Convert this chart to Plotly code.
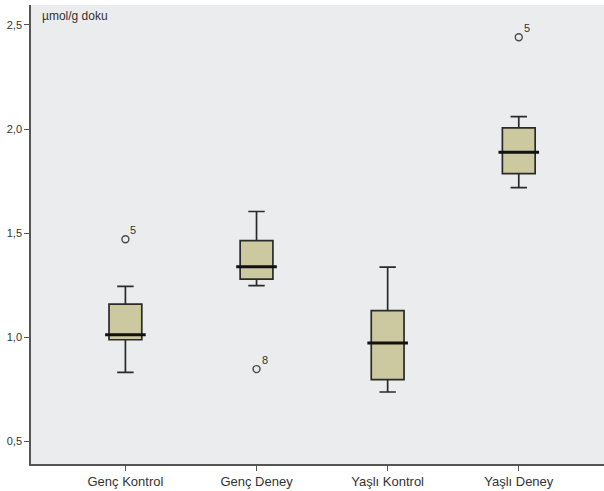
import plotly.graph_objects as go

# Group names
categories = ["Genç Kontrol", "Genç Deney", "Yaşlı Kontrol", "Yaşlı Deney"]

# Box statistics per group (µmol/g doku)
lower_whisker = [0.831, 1.248, 0.737, 1.719]
q1_values = [0.988, 1.279, 0.796, 1.786]
median_values = [1.012, 1.338, 0.972, 1.889]
q3_values = [1.159, 1.464, 1.128, 2.006]
upper_whisker = [1.244, 1.604, 1.337, 2.060]

# Outliers with their case numbers
outlier_groups = ["Genç Kontrol", "Genç Deney", "Yaşlı Deney"]
outlier_values = [1.471, 0.847, 2.441]
outlier_cases = ["5", "8", "5"]

y_tick_values = [0.5, 1.0, 1.5, 2.0, 2.5]

fig = go.Figure()

fig.add_trace(go.Box(
    x=categories,
    q1=q1_values,
    median=median_values,
    q3=q3_values,
    lowerfence=lower_whisker,
    upperfence=upper_whisker,
    width=0.25,
    whiskerwidth=0.5,
    fillcolor="#ccc89f",
    line=dict(color="#2a2a2a", width=1.7),
    boxpoints=False,
    showlegend=False,
    hoverinfo="skip",
))

# Heavier median bars
fig.add_trace(go.Scatter(
    x=categories,
    y=median_values,
    mode="markers",
    marker=dict(symbol="line-ew-open", size=29, color="#111111",
                line=dict(color="#111111", width=3)),
    showlegend=False,
    hoverinfo="skip",
))

# Outliers
fig.add_trace(go.Scatter(
    x=outlier_groups,
    y=outlier_values,
    mode="markers",
    marker=dict(symbol="circle-open", size=7, color="#4a4a4a",
                line=dict(color="#4a4a4a", width=1.4)),
    showlegend=False,
    hoverinfo="skip",
))

# Case numbers next to each outlier
for grp, val, case in zip(outlier_groups, outlier_values, outlier_cases):
    fig.add_annotation(
        x=grp, y=val, text=case, showarrow=False,
        xanchor="left", yanchor="bottom", xshift=3, yshift=1,
        font=dict(size=11, color="#333333"),
    )

fig.add_annotation(
    text="µmol/g doku", xref="paper", yref="paper",
    x=0.015, y=0.995, xanchor="left", yanchor="top",
    showarrow=False, font=dict(size=12, color="#333333"),
)

fig.update_layout(
    width=604, height=491,
    margin=dict(l=31, r=0, t=5, b=27),
    paper_bgcolor="white",
    plot_bgcolor="#ebecee",
    separators=",.",
    font=dict(family="Liberation Sans, Arial, sans-serif", color="#333333"),
)

fig.update_xaxes(
    type="category",
    categoryorder="array", categoryarray=categories,
    range=[-0.72, 3.65],
    showgrid=False, zeroline=False,
    showline=True, linecolor="#555555", linewidth=1.5,
    ticks="outside", ticklen=5, tickcolor="#555555", tickwidth=1.2,
    tickfont=dict(size=13, color="#333333"),
)

fig.update_yaxes(
    range=[0.391, 2.596],
    tickvals=y_tick_values,
    tickformat=".1f",
    showgrid=False, zeroline=False,
    showline=True, linecolor="#555555", linewidth=1.5,
    ticks="outside", ticklen=5, tickcolor="#555555", tickwidth=1.2,
    tickfont=dict(size=11, color="#333333"),
)

fig.write_html("out.html")
